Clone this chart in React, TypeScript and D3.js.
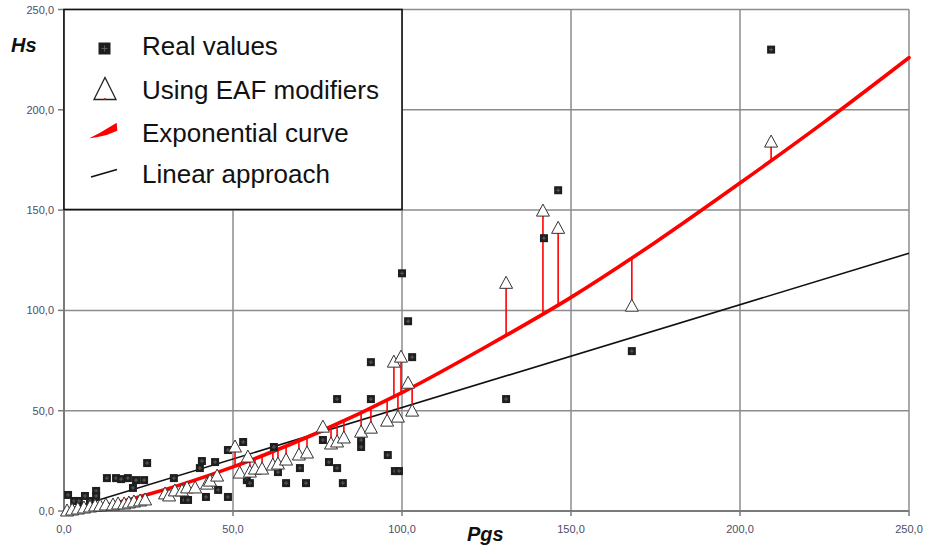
import React from "react";
import * as d3 from "d3";

// Real values (Pgs, Hs)
const realX = [1.2, 3.0, 4.4, 6.2, 7.7, 9.5, 9.5, 12.7, 15.4, 16.9, 18.9, 20.4, 21.3, 23.7, 24.6, 32.5, 35.5, 36.7, 40.2, 40.8, 42.0, 44.7, 45.6, 48.5, 48.5, 53.0, 54.1, 55.0, 62.1, 63.3, 65.7, 69.8, 71.6, 76.6, 78.4, 80.8, 80.8, 82.5, 87.9, 87.9, 90.8, 90.8, 95.8, 97.9, 99.1, 100.0, 101.8, 103.0, 130.8, 142.0, 146.2, 168.0, 209.2];
const realY = [8.0, 5.0, 5.0, 7.5, 5.0, 10.0, 7.5, 16.4, 16.4, 15.9, 16.4, 11.5, 15.4, 15.4, 23.9, 16.4, 5.5, 5.5, 21.4, 24.9, 7.0, 24.4, 10.5, 7.0, 30.4, 34.4, 15.4, 13.9, 31.9, 19.4, 13.9, 21.4, 13.9, 35.4, 24.4, 21.4, 55.8, 13.9, 35.4, 31.9, 74.2, 55.8, 27.9, 19.9, 19.9, 118.5, 94.6, 76.7, 55.8, 136.0, 159.9, 79.7, 230.0];

// Values using EAF modifiers (Pgs, Hs)
const eafX = [0.9, 2.4, 4.1, 5.9, 7.7, 9.2, 10.7, 12.4, 14.5, 16.0, 17.8, 19.2, 20.7, 22.5, 24.0, 29.9, 31.1, 32.8, 34.9, 36.4, 38.8, 42.3, 43.2, 45.3, 50.6, 52.0, 54.4, 55.0, 56.5, 58.6, 61.8, 63.3, 65.7, 69.5, 71.9, 76.6, 79.0, 80.8, 82.8, 87.9, 90.8, 95.6, 98.8, 97.6, 99.7, 101.8, 103.0, 130.8, 141.7, 146.2, 168.0, 209.2];
const eafY = [0.5, 1.0, 1.5, 2.0, 2.5, 3.0, 3.0, 3.5, 3.5, 4.0, 4.0, 4.5, 5.0, 5.5, 6.0, 9.0, 8.0, 10.5, 10.5, 12.0, 12.0, 13.9, 15.4, 17.9, 32.4, 19.4, 27.4, 19.9, 21.4, 21.4, 23.4, 23.9, 25.9, 28.4, 29.4, 42.3, 33.9, 34.9, 36.9, 39.8, 41.8, 45.3, 47.3, 74.7, 77.2, 64.2, 50.3, 114.0, 150.0, 141.4, 102.6, 184.4];

// Exponential (power) trend curve, sampled along its length
const curveX = [1, 10, 25, 50, 75, 100, 125, 150, 175, 200, 225, 250];
const curveY = [0.1, 2.0, 8.3, 22.0, 39.0, 59.0, 82.0, 106.5, 134.0, 163.5, 194.0, 226.0];

// Linear approach: end points
const linX = [2, 250];
const linY = [1.3, 128.5];

const ticks = [0, 50, 100, 150, 200, 250];
const tickLabels = ["0,0", "50,0", "100,0", "150,0", "200,0", "250,0"];

const legendLabels = ["Real values", "Using EAF modifiers", "Exponential curve", "Linear approach"];

const W = 930;
const H = 554;

export default function App() {
  const x = d3.scaleLinear().domain([0, 250]).range([64, 909]);
  const y = d3.scaleLinear().domain([0, 250]).range([511, 9.5]);
  const curveAt = d3.scaleLinear().domain(curveX).range(curveY).clamp(true);

  const curvePts = curveX.map((v, i) => [v, curveY[i]] as [number, number]);
  const curvePath = d3
    .line<[number, number]>()
    .x((d) => x(d[0]))
    .y((d) => y(d[1]))
    .curve(d3.curveMonotoneX)(curvePts) as string;
  const linPath = d3
    .line<[number, number]>()
    .x((d) => x(d[0]))
    .y((d) => y(d[1]))(linX.map((v, i) => [v, linY[i]] as [number, number])) as string;

  const tickColor = "#4d4d68";
  const gridColor = "#8c8c8c";
  const font = "'Liberation Sans', Arial, sans-serif";

  const tri = (cx: number, cy: number, w: number, h: number) =>
    `M${cx - w / 2},${cy + h / 2}L${cx},${cy - h / 2}L${cx + w / 2},${cy + h / 2}Z`;

  const square = (cx: number, cy: number, s: number, key: string) => (
    <g key={key}>
      <rect x={cx - s / 2} y={cy - s / 2} width={s} height={s} fill="#1e1e1e" />
      <line x1={cx - s * 0.25} x2={cx + s * 0.25} y1={cy} y2={cy} stroke="#6a6a6a" strokeWidth={0.8} />
      <line x1={cx} x2={cx} y1={cy - s * 0.25} y2={cy + s * 0.25} stroke="#6a6a6a" strokeWidth={0.8} />
    </g>
  );

  const legendBaselines = [55, 99, 141.5, 183];

  return (
    <svg
      width={W}
      height={H}
      style={{ position: "absolute", left: 0, top: 0, background: "#ffffff" }}
      fontFamily={font}
    >
      {/* grid */}
      {ticks.slice(1).map((t) => (
        <line key={"gx" + t} x1={x(t)} x2={x(t)} y1={y(0)} y2={y(250)} stroke={gridColor} strokeWidth={1.5} />
      ))}
      {ticks.slice(1).map((t) => (
        <line key={"gy" + t} x1={x(0)} x2={x(250)} y1={y(t)} y2={y(t)} stroke={gridColor} strokeWidth={1.5} />
      ))}

      {/* axes */}
      <line x1={x(0)} x2={x(0)} y1={y(0) + 0.5} y2={y(250)} stroke="#7a7a7a" strokeWidth={2} />
      <line x1={x(0)} x2={x(250)} y1={y(0)} y2={y(0)} stroke="#7a7a7a" strokeWidth={2} />
      {ticks.map((t) => (
        <line key={"tx" + t} x1={x(t)} x2={x(t)} y1={y(0)} y2={y(0) + 5} stroke="#7a7a7a" strokeWidth={1.5} />
      ))}
      {ticks.map((t) => (
        <line key={"ty" + t} x1={x(0) - 6} x2={x(0)} y1={y(t)} y2={y(t)} stroke="#7a7a7a" strokeWidth={1.5} />
      ))}
      {ticks.map((t, i) => (
        <text key={"lx" + t} x={x(t)} y={533} textAnchor="middle" fontSize={11} fill={tickColor}>
          {tickLabels[i]}
        </text>
      ))}
      {ticks.map((t, i) => (
        <text key={"ly" + t} x={54} y={y(t) + 4} textAnchor="end" fontSize={11} fill={tickColor}>
          {tickLabels[i]}
        </text>
      ))}

      {/* trend lines */}
      <path d={linPath} fill="none" stroke="#111" strokeWidth={1.6} />
      <path d={curvePath} fill="none" stroke="#ff0000" strokeWidth={3.6} strokeLinecap="round" />
      {eafX.map((v, i) => (
        <line
          key={"seg" + i}
          x1={x(v)}
          x2={x(v)}
          y1={y(eafY[i])}
          y2={y(curveAt(v))}
          stroke="#ff0000"
          strokeWidth={1.6}
        />
      ))}

      {/* points */}
      {realX.map((v, i) => square(x(v), y(realY[i]), 8, "r" + i))}
      {eafX.map((v, i) => (
        <path key={"e" + i} d={tri(x(v), y(eafY[i]), 13, 12)} fill="#ffffff" stroke="#333" strokeWidth={1} />
      ))}

      {/* legend */}
      <rect x={64} y={9.5} width={338} height={200} fill="#ffffff" stroke="#111" strokeWidth={1.6} />
      {square(104.5, 48.5, 12, "leg-sq")}
      <path d={tri(105, 88.5, 22, 22)} fill="#ffffff" stroke="#222" strokeWidth={1.3} />
      <line x1={105} x2={105} y1={98} y2={100} stroke="#ff0000" strokeWidth={1.5} />
      <polygon points="89.3,138.3 100,132.7 116.7,122.7 117.3,130.7 106.7,135 96.7,137.3" fill="#ff0000" />
      <line x1={91} y1={177} x2={117} y2={169.5} stroke="#111" strokeWidth={1.8} />
      {legendLabels.map((l, i) => (
        <text key={l} x={142} y={legendBaselines[i]} fontSize={26} fill="#111">
          {l}
        </text>
      ))}

      {/* axis titles */}
      <text x={11} y={52} fontSize={20} fontWeight="bold" fontStyle="italic" fill="#111">
        Hs
      </text>
      <text x={467} y={541} fontSize={20} fontWeight="bold" fontStyle="italic" fill="#111">
        Pgs
      </text>
    </svg>
  );
}
